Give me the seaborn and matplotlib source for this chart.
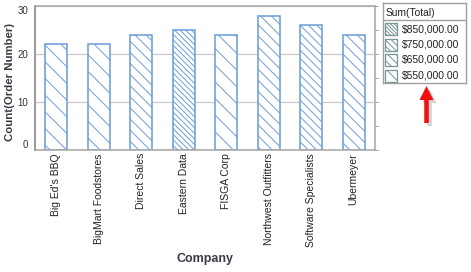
import matplotlib
matplotlib.use("Agg")
import matplotlib.pyplot as plt
import numpy as np
import pandas as pd
import seaborn as sns
from matplotlib.patches import Rectangle, FancyArrow
from matplotlib.transforms import IdentityTransform
from matplotlib.ticker import MultipleLocator

# ---- data ----
companies = ["Big Ed's BBQ", "BigMart Foodstores", "Direct Sales", "Eastern Data",
             "FISGA Corp", "Northwest Outfitters", "Software Specialists", "Ubermeyer"]
order_counts = [22, 22, 24, 25, 24, 28, 26, 24]
sum_totals = [550000, 550000, 650000, 850000, 550000, 650000, 750000, 650000]
legend_levels = [850000, 750000, 650000, 550000]
y_ticks = [0, 10, 20, 30]

# ---- style ----
DPI = 200
K = 100 / DPI          # point scale so sizes read like a 100 dpi figure
PX = 72 / DPI          # one pixel in points
W, H = 471, 272
blue = "#6f9fd8"
legend_edge = "#7a9696"
bar_hatch = {850000: "\\" * 12, 750000: "\\" * 8, 650000: "\\" * 6, 550000: "\\" * 4}
legend_hatch = {850000: "\\" * 18, 750000: "\\" * 11, 650000: "\\" * 8, 550000: "\\" * 4}

sns.set_theme(style="white")
plt.rcParams["font.family"] = ["Liberation Sans", "DejaVu Sans"]
plt.rcParams["hatch.linewidth"] = 1.0 * PX

fig = plt.figure(figsize=(W / DPI, H / DPI), dpi=DPI)
ax = fig.add_axes([35 / W, 1 - 150 / H, 340 / W, 144 / H])

df = pd.DataFrame({"Company": companies, "Count": order_counts, "Total": sum_totals})
sns.barplot(data=df, x="Company", y="Count", ax=ax, color="white", saturation=1,
            edgecolor=blue, linewidth=1.6 * PX, width=0.52)
for p, t in zip(ax.patches, sum_totals):
    p.set_facecolor("white")
    p.set_edgecolor(blue)
    p.set_hatch(bar_hatch[t])

ax.set_ylim(0, 30)
ax.set_yticks(y_ticks)
ax.yaxis.set_minor_locator(MultipleLocator(5))
ax.set_axisbelow(True)
ax.yaxis.grid(True, which="major", color="#c8c8c8", linewidth=1.2 * PX)
ax.tick_params(axis="y", which="both", left=False, right=True, labelleft=True,
               labelright=False, direction="out", length=3 * PX,
               width=1 * PX, color="#a0a0a0")
ax.tick_params(axis="y", which="major", labelsize=7 * K, labelcolor="#333333",
               pad=4 * PX)
ax.tick_params(axis="x", bottom=False, length=0, labelsize=7.5 * K, labelcolor="#222222",
               pad=3 * PX, labelrotation=90)
ylabels = ax.get_yticklabels()
ylabels[0].set_va("bottom")
ylabels[-1].set_va("top")
for s in ax.spines.values():
    s.set_color("#a8a8a8")
    s.set_linewidth(1.6 * PX)
ax.spines["left"].set_color("#9a9a9a")
ax.spines["left"].set_linewidth(2 * PX)

ax.set_ylabel("Count(Order Number)", fontsize=8.2 * K, fontweight="bold", color="#3a3a48")
ax.yaxis.set_label_coords((15 - 35) / 340, 0.47)
ax.set_xlabel("Company", fontsize=9 * K, fontweight="bold", color="#3a3a48")
ax.xaxis.set_label_coords(0.5, (150 - 259) / 144)
ax.xaxis.label.set_va("center")

# ---- legend box ----
lax = fig.add_axes([383 / W, 1 - 83 / H, 83 / W, 80 / H])
lax.set_xlim(0, 83)
lax.set_ylim(80, 0)
lax.set_xticks([])
lax.set_yticks([])
for s in lax.spines.values():
    s.set_color("#a0a0a0")
    s.set_linewidth(1.4 * PX)
lax.text(3, 10.5, "Sum(Total)", fontsize=7.4 * K, color="#222222", va="center", ha="left")
lax.axhline(16.8, color="#a0a0a0", linewidth=1.4 * PX)
row_y = [26, 41.5, 57, 73]
for yv, lvl in zip(row_y, legend_levels):
    lax.add_patch(Rectangle((2, yv - 6), 12, 12, facecolor="white", edgecolor=legend_edge,
                            hatch=legend_hatch[lvl], linewidth=1.3 * PX))
    lax.text(18.5, yv, "${:,.2f}".format(lvl), fontsize=7.5 * K, color="#222222",
             va="center", ha="left")

# ---- red arrow ----
for dx, dy, col, a in [(3, -3, "#9a9a9a", 0.45), (0, 0, "#f01010", 1.0)]:
    fig.add_artist(FancyArrow(426.5 + dx, H - 123 + dy, 0, 37, width=4.5,
                              head_width=14, head_length=14, length_includes_head=True,
                              color=col, alpha=a, linewidth=0,
                              transform=IdentityTransform()))

fig.savefig("out.png", dpi=DPI, facecolor="white")
